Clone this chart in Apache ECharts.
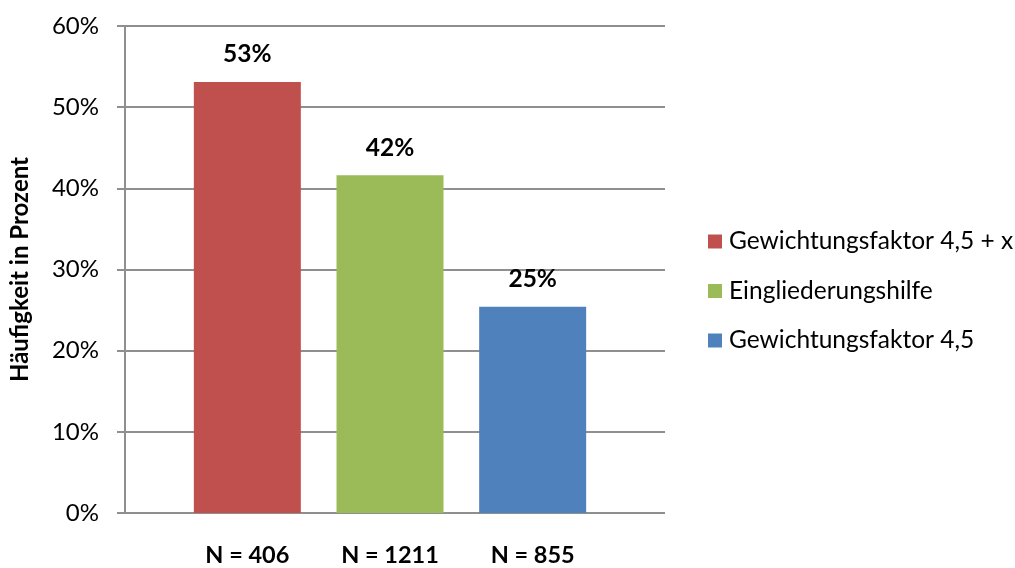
<!DOCTYPE html>
<html>
<head>
<meta charset="utf-8">
<script src="https://cdn.jsdelivr.net/npm/echarts@6/dist/echarts.min.js"></script>
<style>
  html, body { margin: 0; padding: 0; background: #fff; }
  #chart { width: 1015px; height: 568px; }
</style>
</head>
<body>
<div id="chart"></div>
<script>
// Daten
const categories = ["N = 406", "N = 1211", "N = 855"];
const seriesNames = ["Gewichtungsfaktor 4,5 + x", "Eingliederungshilfe", "Gewichtungsfaktor 4,5"];
const values = [53.1, 41.6, 25.4];
const colors = ["#C0504D", "#9BBB59", "#4F81BD"];
const yTicks = [0, 10, 20, 30, 40, 50, 60];

const font = "Lato, 'Open Sans', sans-serif";
const gridColor = "#8f8f8f";

const chart = echarts.init(document.getElementById("chart"), null, { renderer: "canvas" });

// each series only has a value in its own category
const series = seriesNames.map((name, i) => ({
  name: name,
  type: "bar",
  xAxisIndex: 1,
  yAxisIndex: 1,
  barWidth: 107,
  barGap: "-100%",
  itemStyle: { color: colors[i] },
  label: {
    show: true,
    position: "top",
    distance: 15,
    formatter: p => Math.round(p.value) + "%",
    fontFamily: font,
    fontWeight: "bold",
    fontSize: 24.5,
    color: "#000"
  },
  data: categories.map((c, j) => (j === i ? values[i] : "-"))
}));

const option = {
  animation: false,
  legend: {
    orient: "vertical",
    left: 708,
    top: 229,
    padding: 0,
    itemWidth: 14,
    itemHeight: 14,
    itemGap: 24.5,
    icon: "rect",
    textStyle: { fontFamily: font, fontSize: 24.5, lineHeight: 24, color: "#000", padding: [0, 0, 0, 2] },
    data: seriesNames
  },
  grid: [
    { left: 115, right: 350, top: 26, bottom: 55 },
    { left: 176, right: 411, top: 26, bottom: 55 }
  ],
  xAxis: [
    { type: "category", gridIndex: 0, data: [""], show: false },
    {
      type: "category",
      gridIndex: 1,
      data: categories,
      axisLine: { show: false },
      axisTick: { show: false },
      axisLabel: { margin: 30, fontFamily: font, fontWeight: "bold", fontSize: 23.5, color: "#000" }
    }
  ],
  yAxis: [
    {
      type: "value",
      gridIndex: 0,
      min: yTicks[0],
      max: yTicks[yTicks.length - 1],
      interval: 10,
      name: "Häufigkeit in Prozent",
      nameLocation: "middle",
      nameGap: 93,
      nameRotate: 90,
      nameTextStyle: { fontFamily: font, fontWeight: "bold", fontSize: 24, color: "#000" },
      axisLine: { show: true, lineStyle: { color: gridColor, width: 2 } },
      axisTick: { show: true, inside: false, length: 8, lineStyle: { color: gridColor, width: 2 } },
      axisLabel: { margin: 26, formatter: "{value}%", fontFamily: font, fontSize: 24, color: "#000" },
      splitLine: { show: true, lineStyle: { color: gridColor, width: 2 } }
    },
    {
      type: "value",
      gridIndex: 1,
      min: yTicks[0],
      max: yTicks[yTicks.length - 1],
      interval: 10,
      show: false,
      splitLine: { show: false }
    }
  ],
  series: series
};

chart.setOption(option);
</script>
</body>
</html>
